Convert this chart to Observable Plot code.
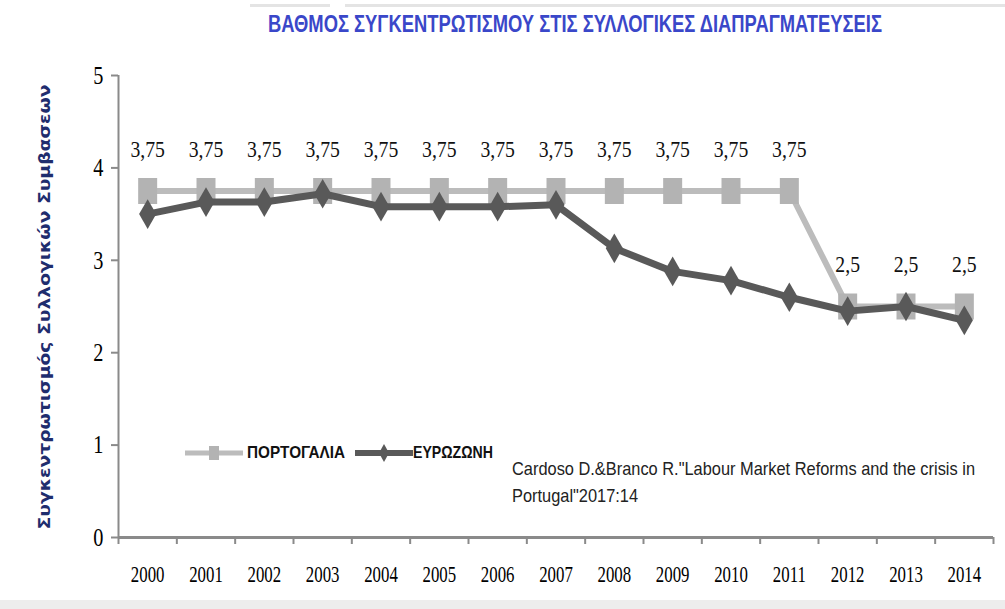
<!DOCTYPE html>
<html><head><meta charset="utf-8">
<script src="https://cdn.jsdelivr.net/npm/d3@7"></script>
<script src="https://cdn.jsdelivr.net/npm/@observablehq/plot@0.6"></script>
<style>
body{margin:0;background:#fff;}
#wrap{position:relative;width:1005px;height:609px;overflow:hidden;background:#fff}
#title{height:44px;position:relative}
#title span{position:absolute;left:268px;top:12px;font-family:"Liberation Sans",sans-serif;font-weight:bold;font-size:24px;line-height:24px;color:#3a47c9;white-space:nowrap;transform-origin:0 50%}
#ylabel{position:absolute;left:45px;top:307px;font-family:"DejaVu Sans",sans-serif;font-weight:bold;font-size:15px;color:#1f2d6e;white-space:nowrap}
.leg{position:absolute;top:443px;height:20px;display:flex;align-items:center;font-family:"Liberation Sans",sans-serif;font-weight:bold;font-size:17px;color:#111;white-space:nowrap}
.leg span{display:inline-block;transform-origin:0 50%}
#source{position:absolute;left:512px;top:455px;font-family:"Liberation Sans",sans-serif;font-size:19px;line-height:27px;color:#222;white-space:nowrap}
#source div{transform-origin:0 50%;display:inline-block}
.deco{position:absolute;background:#e4e4e4}
#chart svg g[aria-label="y-axis tick"] path, #chart svg g[aria-label="x-axis tick"] path{stroke:#8a8a8a;stroke-width:2}
</style></head><body>
<div id="wrap">
<div class="deco" style="left:250px;top:4px;width:80px;height:3px"></div>
<div class="deco" style="left:345px;top:4px;width:660px;height:3px"></div>
<div class="deco" style="left:0;top:600px;width:1005px;height:9px;background:#ededed"></div>
<div id="title"><span></span></div>
<div id="chart"></div>
<div id="ylabel"></div>
<div class="leg" id="leg1" style="left:185px"></div>
<div class="leg" id="leg2" style="left:355px"></div>
<div id="source"></div>
</div>
<script>
const titleText = "ΒΑΘΜΟΣ ΣΥΓΚΕΝΤΡΩΤΙΣΜΟΥ ΣΤΙΣ ΣΥΛΛΟΓΙΚΕΣ ΔΙΑΠΡΑΓΜΑΤΕΥΣΕΙΣ";
const yLabel = "Συγκεντρωτισμός Συλλογικών Συμβασεων";
const seriesNames = ["ΠΟΡΤΟΓΑΛΙΑ", "ΕΥΡΩΖΩΝΗ"];
const sourceLines = ["Cardoso D.&Branco R.\"Labour Market Reforms and the crisis in", "Portugal\"2017:14"];
const years = [2000,2001,2002,2003,2004,2005,2006,2007,2008,2009,2010,2011,2012,2013,2014];
const portugal = [3.75,3.75,3.75,3.75,3.75,3.75,3.75,3.75,3.75,3.75,3.75,3.75,2.5,2.5,2.5];
const eurozone = [3.50,3.63,3.63,3.72,3.58,3.58,3.58,3.60,3.13,2.88,2.78,2.60,2.45,2.50,2.35];
const yTicks = [0,1,2,3,4,5];

// fit an HTML element horizontally to a target width
function fitX(el, target, extra) {
  const w = el.getBoundingClientRect().width;
  el.style.transform = (extra || "") + ` scaleX(${target / w})`;
}

const titleEl = document.querySelector("#title span");
titleEl.textContent = titleText;
fitX(titleEl, 614);

const yl = document.getElementById("ylabel");
yl.textContent = yLabel;
const ylw = yl.getBoundingClientRect().width;
yl.style.transform = `translate(-50%,-50%) rotate(-90deg) scaleX(${445 / ylw})`;

const src = document.getElementById("source");
src.innerHTML = sourceLines.map(s => `<div>${s.replace(/&/g,"&amp;")}</div>`).join("<br>");
const srcDivs = src.querySelectorAll("div");
const srcScale = 463 / srcDivs[0].getBoundingClientRect().width;
srcDivs.forEach(d => d.style.transform = `scaleX(${srcScale})`);

const portData = years.map((yr,i) => ({year: yr, value: portugal[i], label: String(portugal[i]).replace(".", ",")}));
const euroData = years.map((yr,i) => ({year: yr, value: eurozone[i]}));
const bounds = years.map(y => y - 0.5).concat([years[years.length-1] + 0.5]);

const rectSymbol = {draw(ctx){ ctx.rect(-9.5,-13,19,26); }};
const PORT = "#bcbcbc", PORT_M = "#b3b3b3", EURO = "#595959";

const plot = Plot.plot({
  width: 1005, height: 565,
  marginTop: 31, marginBottom: 72, marginLeft: 118, marginRight: 12,
  x: {type: "linear", domain: [bounds[0], bounds[bounds.length-1]]},
  y: {domain: [0, 5]},
  style: {background: "transparent", overflow: "visible"},
  marks: [
    Plot.ruleX([bounds[0]], {y1: 0, y2: 5, stroke: "#8a8a8a", strokeWidth: 2}),
    Plot.ruleY([0], {stroke: "#8a8a8a", strokeWidth: 3}),
    Plot.axisY(yTicks, {tickSize: 7, tickPadding: 8, tickFormat: d => String(d), fontSize: 26, fontFamily: "Liberation Serif", label: null}),
    Plot.axisX(bounds, {tickSize: 7, tickFormat: () => "", label: null}),
    Plot.axisX(years, {tickSize: 0, tickPadding: 27, tickFormat: d => String(d), fontSize: 24, fontFamily: "Liberation Serif", label: null}),
    Plot.line(portData, {x: "year", y: "value", stroke: PORT, strokeWidth: 6}),
    Plot.dot(portData, {x: "year", y: "value", symbol: rectSymbol, fill: PORT_M, stroke: "none"}),
    Plot.line(euroData, {x: "year", y: "value", stroke: EURO, strokeWidth: 7}),
    Plot.dot(euroData, {x: "year", y: "value", symbol: "diamond", r: 9, fill: EURO, stroke: "none"}),
    Plot.text(portData, {x: "year", y: "value", text: "label", dy: -42, fontSize: 24, fontFamily: "Liberation Serif", fill: "#111"})
  ]
});
document.getElementById("chart").appendChild(plot);

function condense(selection, factor) {
  selection.each(function() {
    const len = this.getComputedTextLength();
    if (len > 0) d3.select(this).attr("textLength", len * factor).attr("lengthAdjust", "spacingAndGlyphs");
  });
}
condense(d3.select(plot).selectAll('g[aria-label="x-axis tick label"] text'), 0.7);
condense(d3.select(plot).selectAll('g[aria-label="y-axis tick label"] text'), 0.78);
condense(d3.select(plot).selectAll('g[aria-label="text"] text'), 0.82);

function swatch(color, sw, marker, mr) {
  return `<svg width="58" height="20" style="margin-right:${mr}px;flex:none"><line x1="0" y1="10" x2="58" y2="10" stroke="${color}" stroke-width="${sw}"/>${marker}</svg>`;
}
document.getElementById("leg1").innerHTML = swatch(PORT, 5, `<rect x="24" y="3" width="10" height="14" fill="${PORT_M}"/>`, 4) + `<span>${seriesNames[0]}</span>`;
document.getElementById("leg2").innerHTML = swatch(EURO, 6, `<path d="M29,1 L34,10 L29,19 L24,10 Z" fill="${EURO}"/>`, 0) + `<span>${seriesNames[1]}</span>`;
fitX(document.querySelector("#leg1 span"), 98);
fitX(document.querySelector("#leg2 span"), 80);
</script>
</body></html>
